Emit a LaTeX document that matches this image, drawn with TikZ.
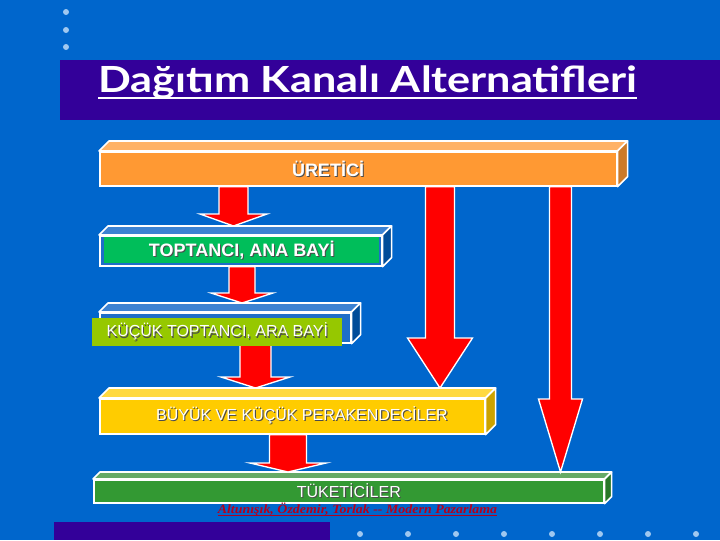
\documentclass[tikz,border=0pt]{standalone}
\usepackage{fontspec}
\setmainfont{Liberation Sans}
\newfontfamily\baslikfont{Lato}
\newfontfamily\kaynakfont{Liberation Serif}
\usepackage{xcolor}
\usepackage{tikz}
\usetikzlibrary{calc}
\definecolor{zemin}{RGB}{0,102,204}
\definecolor{baslikzemin}{RGB}{51,0,153}
\definecolor{noktarenk}{RGB}{160,200,240}
\definecolor{turuncu}{RGB}{255,153,51}
\definecolor{turuncuust}{RGB}{255,178,102}
\definecolor{turuncuyan}{RGB}{204,122,41}
\definecolor{mavi}{RGB}{30,110,200}
\definecolor{maviust}{RGB}{60,130,210}
\definecolor{maviyan}{RGB}{0,76,153}
\definecolor{koyuyesil}{RGB}{0,190,90}
\definecolor{cimen}{RGB}{150,200,0}
\definecolor{sari}{RGB}{255,204,0}
\definecolor{sariust}{RGB}{255,217,64}
\definecolor{sariyan}{RGB}{204,163,0}
\definecolor{yesil}{RGB}{51,153,51}
\definecolor{yesilust}{RGB}{102,170,102}
\definecolor{yesilyan}{RGB}{40,120,40}
\definecolor{kaynakrenk}{RGB}{180,0,30}
\tikzset{
    onyuz/.style={rectangle, draw=white, line width=1.2pt, inner sep=0pt, anchor=north west, text=white, font=\fontsize{12}{14}\selectfont},
    yuz/.style={draw=white, line width=1.2pt, line join=round},
    etiket/.style={rectangle, inner sep=0pt, anchor=north west, text=white, font=\fontsize{12}{14}\selectfont},
    yazi/.style={inner sep=0pt, text=white, font=\fontsize{12}{14}\selectfont},
    kalin/.style={font=\bfseries\fontsize{13.5}{16}\selectfont},
    ok/.style={fill=red, draw=white, line width=1pt, line join=miter},
    nokta/.style={fill=noktarenk}
}
\newcommand{\golge}[1]{\makebox[0pt][l]{\kern0.8pt\raisebox{-0.8pt}{\textcolor{black!70}{#1}}}#1}
\newcommand{\derin}[4]{%
    \filldraw[yuz, fill=#2] (#1.north west) -- ++(#4,-#4) -- ([shift={(#4,-#4)}]#1.north east) -- (#1.north east) -- cycle;
    \filldraw[yuz, fill=#3] (#1.north east) -- ([shift={(#4,-#4)}]#1.north east) -- ([shift={(#4,-#4)}]#1.south east) -- (#1.south east) -- cycle;
    \coordinate (#1ust) at ([shift={(#4,-#4)}]#1.north);
}
\newcommand{\blokok}[6]{%
    \filldraw[ok] let \p1=(#1.south), \p2=(#2ust), \p3=(#3,0), \p4=(#4,-#6), \p5=(#5,0) in
        (\x3-\x4,\y1) -- (\x3-\x4,\y2+\y4) -- (\x3-\x5,\y2+\y4) -- (\x3,\y2) -- (\x3+\x5,\y2+\y4) -- (\x3+\x4,\y2+\y4) -- (\x3+\x4,\y1) -- cycle;
}

\begin{document}
\begin{tikzpicture}[x=0.75pt, y=-0.75pt]
    \useasboundingbox (0,0) rectangle (720,540);
    \fill[zemin] (0,0) rectangle (720,540);
    \foreach \y in {12,30,47} \fill[nokta] (66,\y) circle (3);
    \foreach \x in {360,408,...,696} \fill[nokta] (\x,534) circle (3);
    \fill[baslikzemin] (60,60) rectangle (720,120);
    \fill[baslikzemin] (54,522) rectangle (330,540);

    \node (baslik) [anchor=base west, inner sep=0pt, text=white, font=\baslikfont\bfseries\fontsize{27}{30}\selectfont] at (98,92) {\scalebox{1.2}[1]{Dağıtım Kanalı Alternatifleri}};
    \draw[white, line width=1.6pt] ([yshift=-4.5pt]baslik.base west) -- ([yshift=-4.5pt]baslik.base east);

    \node (uretici) [onyuz, fill=turuncu, minimum width=387.75pt, minimum height=25.5pt] at (99,151) {};
    \derin{uretici}{turuncuust}{turuncuyan}{10}
    \node (ureticiyazi) [yazi, kalin] at (328,169) {\golge{ÜRETİCİ}};

    \node (toptanci) [onyuz, fill=mavi, minimum width=211.5pt, minimum height=22.5pt] at (99,235) {};
    \derin{toptanci}{maviust}{maviyan}{9}
    \node (kucuk) [onyuz, fill=mavi, minimum width=188.25pt, minimum height=22.5pt] at (99,312) {};
    \derin{kucuk}{maviust}{maviyan}{9}
    \node (buyuk) [onyuz, fill=sari, minimum width=288.75pt, minimum height=26.25pt] at (99,398) {};
    \derin{buyuk}{sariust}{sariyan}{10}
    \node (buyukyazi) [yazi] at (302,416) {\golge{BÜYÜK VE KÜÇÜK PERAKENDECİLER}};
    \node (tuketici) [onyuz, fill=yesil, minimum width=382.5pt, minimum height=17.25pt] at (93,479) {\golge{TÜKETİCİLER}};
    \derin{tuketici}{yesilust}{yesilyan}{7}

    \blokok{uretici}{toptanci}{233.5}{14.5}{33.5}{12}
    \blokok{toptanci}{kucuk}{242}{13}{31}{10}
    \blokok{kucuk}{buyuk}{255.5}{15.5}{34.5}{11}
    \blokok{buyuk}{tuketici}{288}{18.5}{38}{9}
    \blokok{uretici}{buyuk}{440}{14.5}{32.5}{50}
    \blokok{uretici}{tuketici}{560.5}{11}{22}{73}

    \node (toptanciyazi) [etiket, kalin, fill=koyuyesil, minimum width=206.25pt, minimum height=19.5pt] at (104,237) {\golge{TOPTANCI, ANA BAYİ}};
    \node (kucukyazi) [etiket, fill=cimen, minimum width=187.5pt, minimum height=21pt] at (92,318) {\golge{KÜÇÜK TOPTANCI, ARA BAYİ}};

    \node (kaynak) [anchor=base, inner sep=0pt, text=kaynakrenk, font=\kaynakfont\bfseries\itshape\fontsize{9.5}{11}\selectfont] at (357.5,513) {\scalebox{1.1}[1]{Altunışık, Özdemir, Torlak -- Modern Pazarlama}};
    \draw[kaynakrenk, line width=0.8pt] ([yshift=-1.8pt]kaynak.base west) -- ([yshift=-1.8pt]kaynak.base east);
\end{tikzpicture}
\end{document}
